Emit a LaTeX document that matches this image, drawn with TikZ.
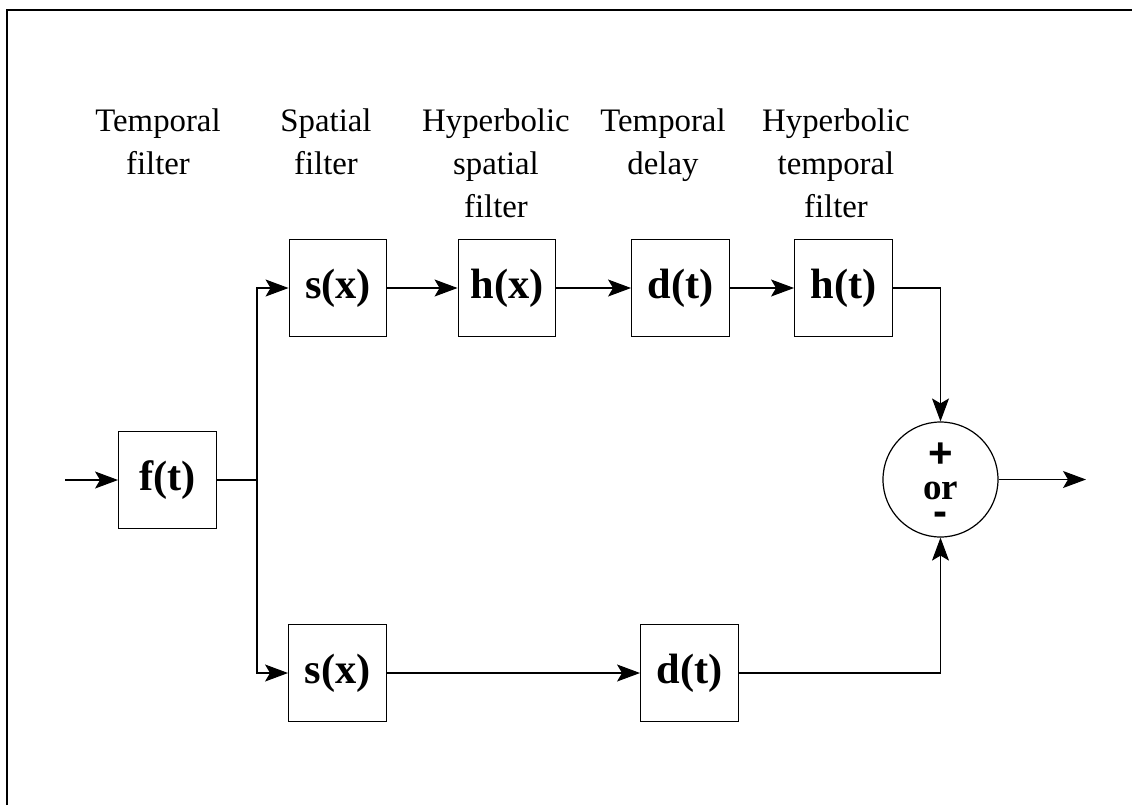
\documentclass[tikz,border=0pt]{standalone}
\usepackage{fontspec}
\setmainfont{Liberation Serif}
\newfontfamily\signfont{Liberation Sans}
\usetikzlibrary{arrows.meta}
\begin{document}
\begin{tikzpicture}[x=0.5pt,y=-0.5pt,
  blk/.style={draw, line width=0.7pt, minimum width=48.75pt, minimum height=48.5pt, inner sep=0pt, font=\bfseries\fontsize{21.2}{24}\selectfont},
  lbl/.style={align=center, anchor=north, inner sep=0pt, font=\fontsize{16.4}{21.5}\selectfont},
  conn/.style={line width=0.55pt, -{Stealth[length=11.5pt,width=8.5pt,inset=2.5pt]}},
  wire/.style={line width=0.55pt},
  sumc/.style={draw, circle, line width=0.6pt, minimum size=57.5pt, inner sep=0pt},
  signs/.style={align=center, anchor=north, inner sep=0pt, font=\bfseries\fontsize{21}{16}\selectfont}]
\useasboundingbox (0,0) rectangle (1132,805);
% frame
\draw[line width=1.3pt] (7,805) -- (7,10) -- (1132,10);
% labels
\node[lbl] (l1) at (158,108) {Temporal\\filter};
\node[lbl] (l2) at (326,108) {Spatial\\filter};
\node[lbl] (l3) at (496,108) {Hyperbolic\\spatial\\filter};
\node[lbl] (l4) at (663,108) {Temporal\\delay};
\node[lbl] (l5) at (836,108) {Hyperbolic\\temporal\\filter};
% blocks
\node[blk] (f) at (167.5,480) {f(t)};
\node[blk] (s1) at (338,288) {s(x)};
\node[blk] (h1) at (507,288) {h(x)};
\node[blk] (d1) at (680.5,288) {d(t)};
\node[blk] (h2) at (843.5,288) {h(t)};
\node[blk] (s2) at (337.5,673) {s(x)};
\node[blk] (d2) at (689.5,673) {d(t)};
% summing junction
\node[sumc] (sum) at (940.5,479.5) {};
\node[signs] (signtext) at (940.5,442) {{\signfont\bfseries +}\\{\fontsize{18.5}{16}\selectfont or}\\[-3pt]{\signfont\bfseries -}};
% connectors
\coordinate (in) at (65,480);
\coordinate (split) at (257,480);
\coordinate (out) at (1086,479.5);
\draw[conn] (in) -- (f);
\draw[wire] (f) -- (split);
\draw[conn] (split) |- (s1);
\draw[conn] (split) |- (s2);
\draw[conn] (s1) -- (h1);
\draw[conn] (h1) -- (d1);
\draw[conn] (d1) -- (h2);
\draw[conn] (h2) -| (sum);
\draw[conn] (s2) -- (d2);
\draw[conn] (d2) -| (sum);
\draw[conn] (sum) -- (out);
\end{tikzpicture}
\end{document}
